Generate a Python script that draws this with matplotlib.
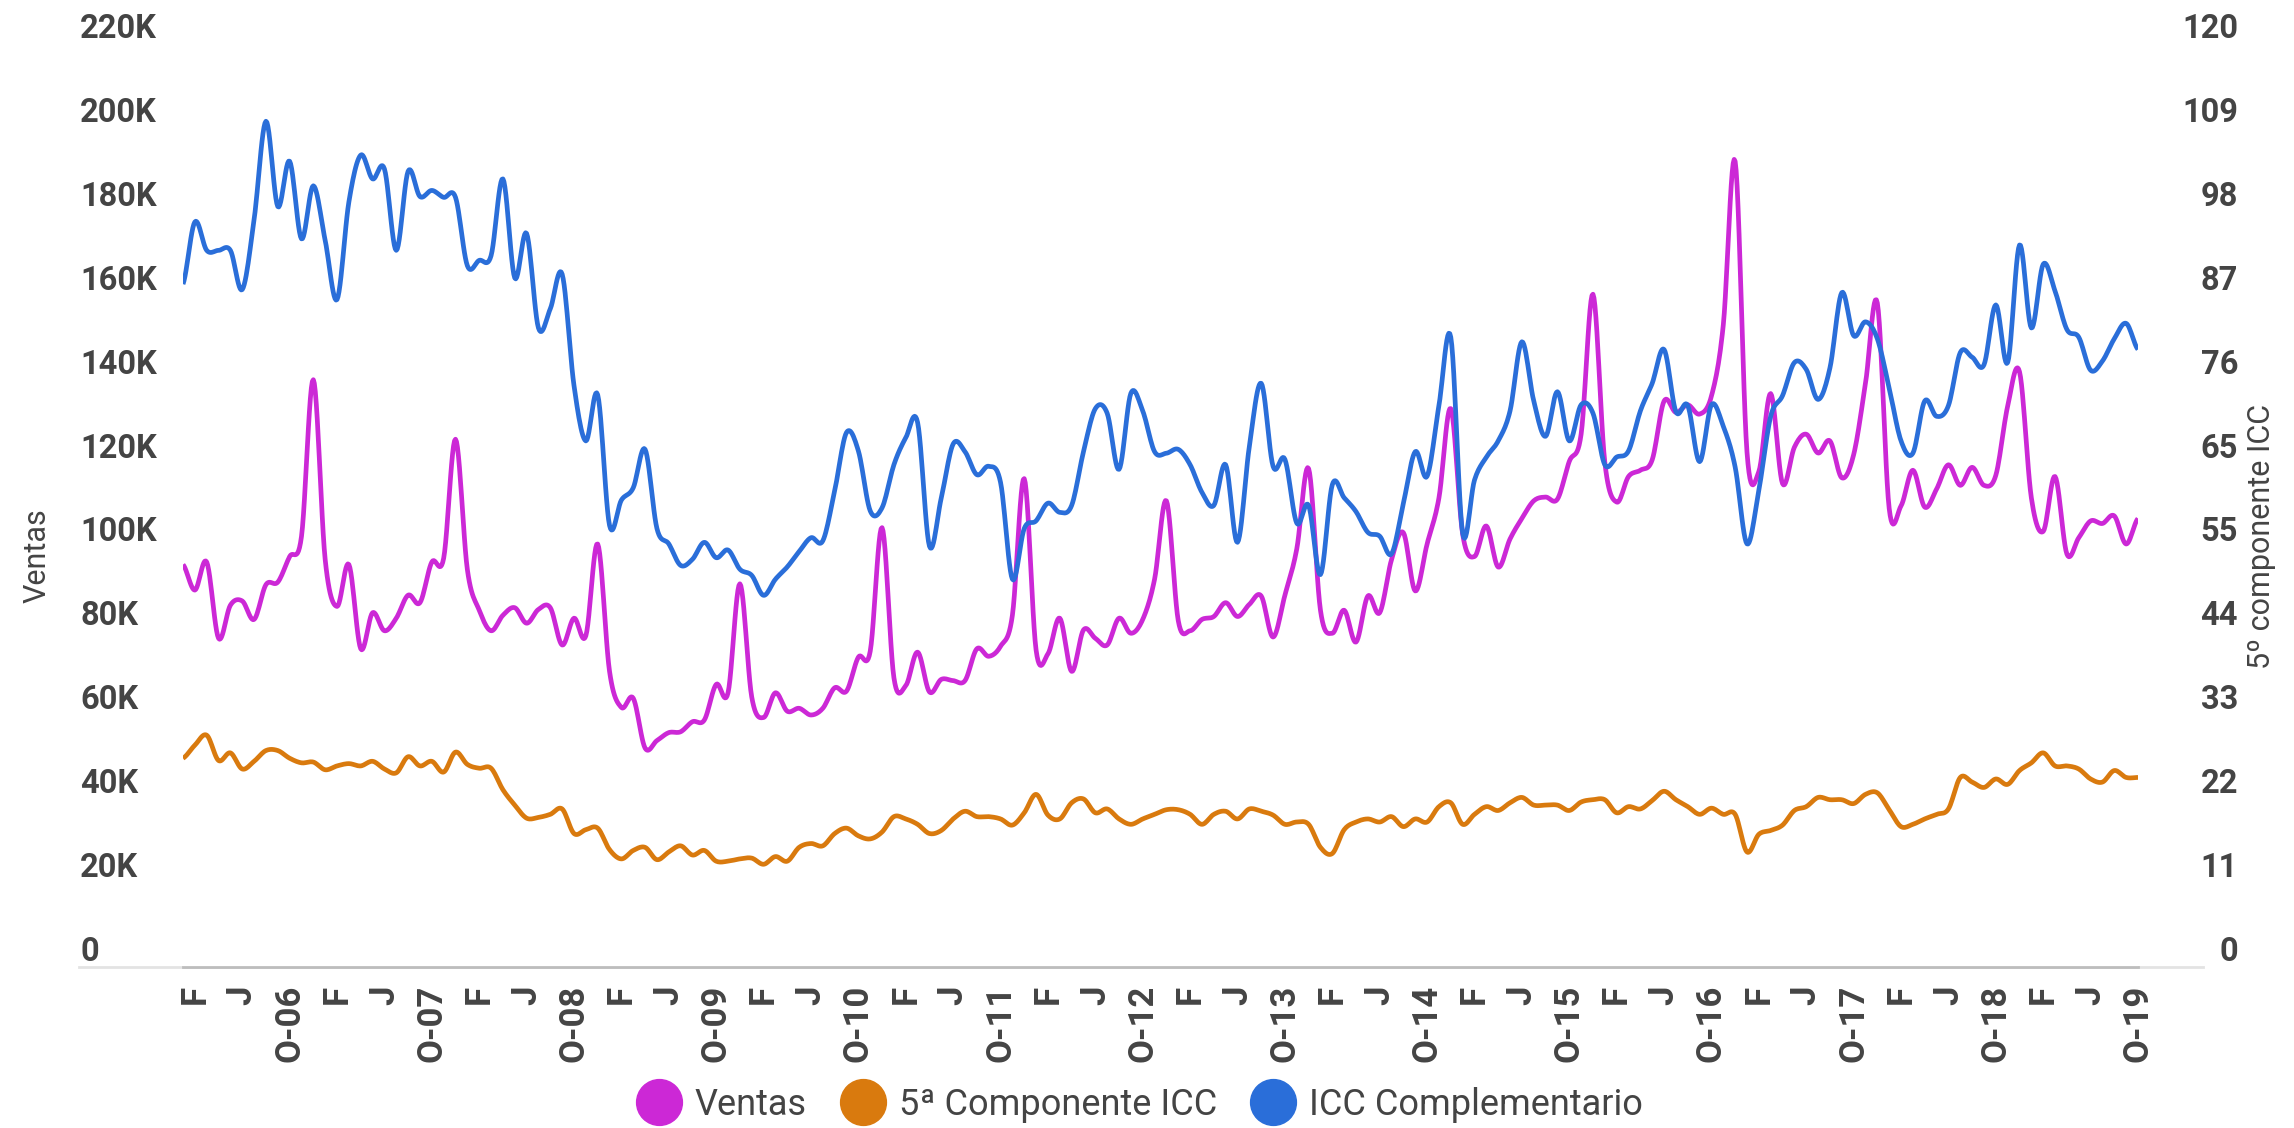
import numpy as np
import matplotlib
matplotlib.use('Agg')
import matplotlib.pyplot as plt
from matplotlib.lines import Line2D

# monthly series, Jan 2006 .. Oct 2019
ventas = [  # thousands
    91.5, 85.4, 92.1, 73.9, 81.8, 82.8, 78.4, 86.7, 87.3, 93.4, 98.2, 135.6, 92.7, 81.5,
    91.5, 71.4, 80.0, 75.7, 78.7, 84.2, 82.4, 92.1, 93.0, 121.4, 90.3, 80.6, 75.7, 79.4,
    81.2, 77.5, 80.8, 81.2, 72.3, 78.7, 74.5, 96.4, 66.0, 57.4, 59.6, 47.7, 49.5, 51.4,
    51.6, 54.0, 54.4, 62.9, 60.9, 86.9, 59.9, 55.0, 60.9, 56.5, 57.2, 55.6, 57.2, 62.1,
    61.3, 69.4, 70.8, 100.3, 64.5, 62.6, 70.6, 61.1, 64.1, 63.8, 63.8, 71.4, 69.6, 72.0,
    79.4, 112.0, 71.1, 70.2, 78.7, 66.0, 75.9, 73.9, 72.3, 78.7, 75.1, 78.4, 88.0,
    106.7, 78.1, 75.7, 78.4, 79.1, 82.4, 79.1, 82.0, 84.0, 74.2, 84.2, 95.2, 114.4, 80.6,
    75.1, 80.6, 73.0, 84.0, 80.0, 92.7, 99.1, 85.2, 96.4, 107.4, 128.7, 98.8, 93.4, 100.7,
    90.9, 97.6, 102.5, 106.7, 107.6, 107.1, 116.1, 122.6, 156.0, 115.9, 106.4, 112.5, 114.0, 116.5,
    130.5, 127.8, 129.6, 127.4, 131.7, 148.7, 187.7, 118.3, 113.7, 132.3, 110.8, 119.5, 122.6, 118.1,
    121.0, 112.2, 117.7, 134.7, 153.9, 104.9, 105.5, 114.0, 105.2, 109.5, 115.3, 110.4, 114.7,
    110.4, 112.8, 129.3, 137.5, 107.4, 99.4, 112.5, 94.0, 97.9, 101.9, 101.3, 103.1, 96.4, 102.5,
]

icc_5 = [
    24.7, 26.4, 27.7, 24.4, 25.4, 23.3, 24.3, 25.7, 25.7, 24.7, 24.1, 24.2, 23.2, 23.7,
    24.0, 23.7, 24.3, 23.3, 22.8, 24.9, 23.7, 24.3, 22.9, 25.5, 23.9, 23.4, 23.4, 20.6,
    18.6, 16.9, 17.0, 17.4, 18.1, 14.9, 15.4, 15.6, 12.8, 11.6, 12.7, 13.1, 11.5, 12.5,
    13.3, 12.1, 12.7, 11.3, 11.3, 11.6, 11.7, 10.9, 11.9, 11.3, 13.1, 13.6, 13.3, 14.9,
    15.6, 14.6, 14.2, 15.1, 17.1, 16.8, 16.1, 14.9, 15.3, 16.8, 17.8, 17.1, 17.1, 16.8,
    16.0, 17.6, 20.0, 17.3, 16.8, 18.9, 19.4, 17.6, 18.1, 16.8, 16.1, 16.8, 17.4,
    18.0, 18.0, 17.4, 16.1, 17.4, 17.8, 16.8, 18.1, 17.8, 17.3, 16.1, 16.4, 16.1, 13.1,
    12.3, 15.4, 16.4, 16.8, 16.4, 17.1, 15.8, 16.8, 16.4, 18.4, 18.9, 16.1, 17.4, 18.4,
    17.9, 18.9, 19.6, 18.6, 18.6, 18.6, 17.9, 19.0, 19.3, 19.3, 17.6, 18.4, 18.1, 19.2,
    20.4, 19.3, 18.4, 17.4, 18.2, 17.4, 17.4, 12.5, 14.8, 15.3, 16.0, 17.9, 18.4, 19.6,
    19.3, 19.3, 18.8, 20.0, 20.2, 18.0, 15.8, 16.1, 16.8, 17.4, 18.1, 22.2, 21.6,
    20.9, 22.0, 21.3, 23.1, 24.1, 25.4, 23.7, 23.7, 23.3, 22.0, 21.6, 23.1, 22.2, 22.2,
]

icc_comp = [
    86.4, 94.5, 90.8, 90.8, 90.8, 85.7, 94.8, 107.6, 96.5, 102.4, 92.3, 99.2, 92.1, 84.4,
    97.1, 103.2, 100.1, 101.4, 90.8, 101.1, 97.8, 98.6, 97.7, 97.7, 88.8, 89.5, 90.1, 100.1,
    87.2, 93.0, 80.7, 83.2, 87.7, 73.2, 66.0, 72.0, 55.0, 58.3, 59.9, 64.9, 54.6, 52.6,
    49.8, 50.6, 52.8, 50.8, 51.8, 49.3, 48.5, 45.9, 48.0, 49.6, 51.6, 53.4, 53.0, 59.5,
    67.1, 64.7, 56.9, 57.3, 62.9, 66.4, 68.4, 52.3, 58.6, 65.6, 64.6, 61.6, 62.7, 60.6,
    48.0, 54.6, 55.6, 57.9, 56.7, 57.6, 64.6, 70.2, 69.6, 62.3, 72.2, 69.9, 64.6,
    64.4, 64.9, 62.9, 59.3, 57.6, 62.9, 52.8, 65.3, 73.5, 62.7, 63.6, 55.3, 57.6, 48.6,
    60.3, 58.6, 56.8, 54.1, 53.6, 51.3, 57.9, 64.6, 61.4, 70.6, 79.5, 54.0, 60.9, 63.9,
    66.0, 69.9, 78.9, 71.2, 66.6, 72.4, 66.0, 70.7, 69.6, 62.9, 63.9, 64.7, 69.9, 73.5,
    77.9, 69.8, 70.6, 63.3, 70.7, 67.9, 62.6, 52.6, 59.6, 69.2, 71.9, 76.2, 75.3, 71.4,
    75.5, 85.3, 79.7, 81.5, 79.3, 72.9, 66.0, 64.4, 71.2, 69.2, 70.6, 77.5, 76.9,
    75.9, 83.7, 76.2, 91.5, 80.7, 89.0, 85.5, 80.5, 79.5, 75.2, 76.4, 79.3, 81.3, 77.9,
]

tick_labels = [
    'F', 'J', 'O-06', 'F', 'J', 'O-07', 'F', 'J', 'O-08', 'F', 'J', 'O-09',
    'F', 'J', 'O-10', 'F', 'J', 'O-11', 'F', 'J', 'O-12', 'F', 'J', 'O-13',
    'F', 'J', 'O-14', 'F', 'J', 'O-15', 'F', 'J', 'O-16', 'F', 'J', 'O-17',
    'F', 'J', 'O-18', 'F', 'J', 'O-19',
]
left_ticks = [0, 20, 40, 60, 80, 100, 120, 140, 160, 180, 200, 220]
left_labels = ['0', '20K', '40K', '60K', '80K', '100K', '120K', '140K', '160K', '180K', '200K', '220K']
right_labels = ['0', '11', '22', '33', '44', '55', '65', '76', '87', '98', '109', '120']

series_names = ['Ventas', '5ª Componente ICC', 'ICC Complementario']
colors = ['#cc28d6', '#d97a0e', '#2a6ed9']
TXT = '#444444'


def smooth(y, steps=12):
    # catmull-rom curve through the points (like curveType: function)
    y = np.asarray(y, float)
    p = np.concatenate([[y[0]], y, [y[-1]]])
    t = np.linspace(0, 1, steps, endpoint=False)[None, :]
    p0, p1, p2, p3 = [p[k:k + len(y) - 1][:, None] for k in range(4)]
    m1 = (p2 - p0) / 2
    m2 = (p3 - p1) / 2
    h00 = 2 * t**3 - 3 * t**2 + 1
    h10 = t**3 - 2 * t**2 + t
    h01 = -2 * t**3 + 3 * t**2
    h11 = t**3 - t**2
    ys = (h00 * p1 + h10 * m1 + h01 * p2 + h11 * m2).ravel()
    xs = (np.arange(len(y) - 1)[:, None] + t).ravel()
    return np.append(xs, len(y) - 1), np.append(ys, y[-1])


plt.rcParams['font.family'] = 'Roboto'

W, H = 2294, 1128
fig = plt.figure(figsize=(W / 100, H / 100), dpi=100)
ax = fig.add_axes([183 / W, 1 - 967 / H, (2138 - 183) / W, (967 - 26) / H])
ax2 = ax.twinx()

ymin = -4.53
ax.set_ylim(ymin, 220)
ax2.set_ylim(ymin * 120 / 220, 120)
ax.set_xlim(0, len(ventas) - 1)

x, y = smooth(ventas)
ax.plot(x, y, color=colors[0], lw=3.4, solid_capstyle='butt')
x, y = smooth(icc_5)
ax2.plot(x, y, color=colors[1], lw=3.4, solid_capstyle='butt')
x, y = smooth(icc_comp)
ax2.plot(x, y, color=colors[2], lw=3.4, solid_capstyle='butt')

ax.set_xticks(range(1, len(ventas), 4))
ax.set_xticklabels(tick_labels, rotation=90, fontsize=25, fontweight='bold', color=TXT)
ax.tick_params(axis='x', length=0, pad=13)

ax.set_yticks(left_ticks)
ax.set_yticklabels(left_labels, fontsize=23.5, fontweight='bold', color=TXT)
ax.tick_params(axis='y', length=0, pad=74)
for lab in ax.get_yticklabels():
    lab.set_horizontalalignment('left')

ax2.set_yticks([k * 120 / 11 for k in range(12)])
ax2.set_yticklabels(right_labels, fontsize=23.5, fontweight='bold', color=TXT)
ax2.tick_params(axis='y', length=0, pad=72)
for lab in ax2.get_yticklabels():
    lab.set_horizontalalignment('right')

for a in (ax, ax2):
    for s in ('top', 'left', 'right', 'bottom'):
        a.spines[s].set_visible(False)
ax.spines['bottom'].set_visible(True)
ax.spines['bottom'].set_color('#bdbdbd')
ax.spines['bottom'].set_linewidth(2)

# faint extension of the baseline
fig.add_artist(Line2D([79 / W, 2203 / W], [1 - 967 / H] * 2, transform=fig.transFigure,
                      color='#e3e3e3', lw=2, zorder=0))

fig.text(37 / W, 1 - 556 / H, 'Ventas', rotation=90, ha='center', va='center',
         fontsize=22, color=TXT)
fig.text(2261 / W, 1 - 536 / H, '5º componente ICC', rotation=90, ha='center', va='center',
         fontsize=22, color=TXT)

handles = [Line2D([], [], marker='o', ls='', markersize=33, color=c) for c in colors]
fig.legend(handles, series_names, loc='center', bbox_to_anchor=(1139 / W, 1 - 1105 / H),
           ncol=3, frameon=False, fontsize=26, labelcolor=TXT, handlelength=1.3,
           handletextpad=0.35, columnspacing=0.9, borderpad=0)

fig.savefig('out.png', dpi=100)
